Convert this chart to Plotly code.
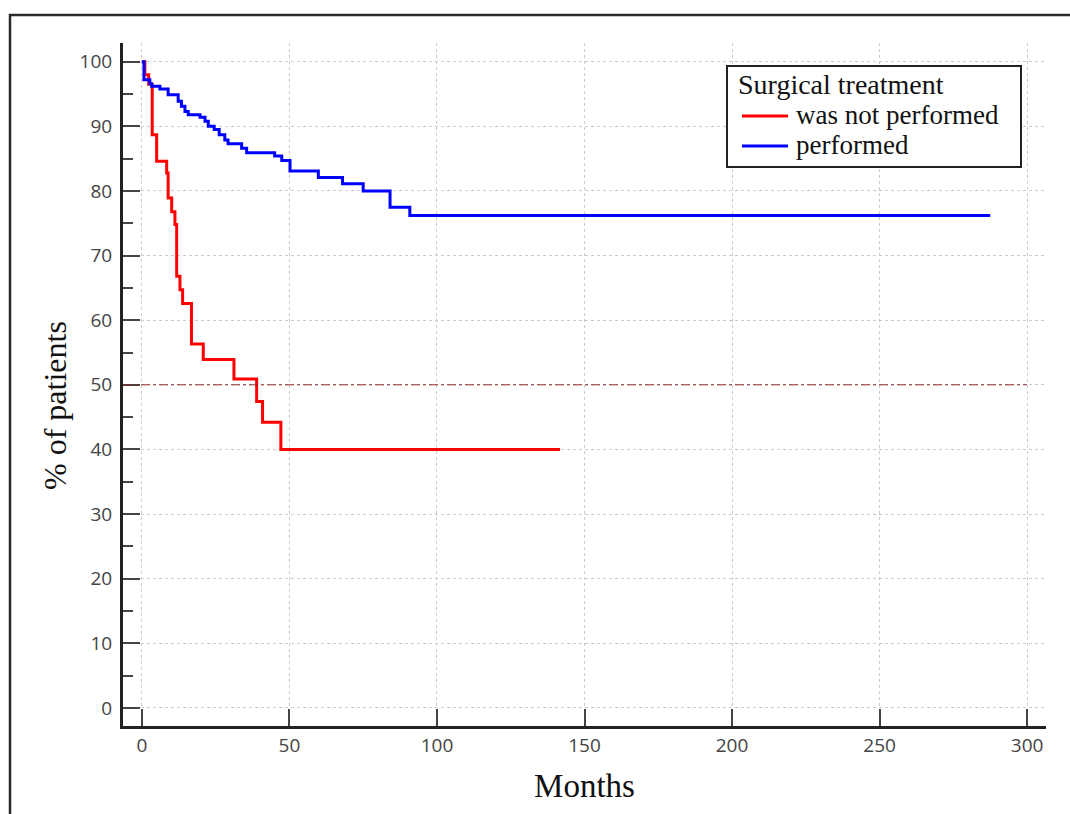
import plotly.graph_objects as go

# Kaplan-Meier style survival steps (months, % of patients)
months_not_performed = [0, 1.0, 2.3, 3.5, 5.0, 8.4, 8.9, 10.1, 11.2, 11.8, 12.9, 13.8,
                        16.8, 20.8, 31.2, 38.9, 40.9, 47.1, 141.7]
pct_not_performed = [100, 98, 96.5, 88.7, 84.6, 82.8, 78.9, 76.8, 74.8, 66.8, 64.7, 62.6,
                     56.3, 53.9, 50.9, 47.4, 44.2, 40.0, 40.0]

months_performed = [0, 0.7, 2.7, 3.3, 6.1, 8.9, 12.3, 13.4, 14.6, 15.7, 19.7, 21.4, 22.5,
                    24.5, 26.2, 28.1, 29.2, 33.8, 35.5, 45.0, 47.4, 50.2, 59.8, 68.0, 75.0,
                    84.1, 90.8, 287.5]
pct_performed = [100, 97.2, 96.6, 96.2, 95.8, 94.9, 93.9, 93.1, 92.3, 91.8, 91.4, 90.8, 90.0,
                 89.5, 88.7, 87.9, 87.3, 86.6, 85.9, 85.4, 84.7, 83.1, 82.1, 81.1, 80.0,
                 77.5, 76.2, 76.2]

series_names = ["was not performed", "performed"]
series_colors = ["#ff0000", "#0000ff"]
legend_title = "Surgical treatment"

x_ticks = [0, 50, 100, 150, 200, 250, 300]
y_ticks = [0, 10, 20, 30, 40, 50, 60, 70, 80, 90, 100]
median_level = 50
median_end = 300

W, H = 1070, 814
ML, MR, MT, MB = 123, 24, 43, 88
PW, PH = W - ML - MR, H - MT - MB
X_RANGE = [-6.4, 306.4]


def px_to_paper_x(px):
    return (px - ML) / PW


def px_to_paper_y(py):
    return (H - MB - py) / PH


serif = "Liberation Serif, Times New Roman, serif"
sans = "Open Sans, DejaVu Sans, sans-serif"

fig = go.Figure()
for xs, ys, name, color in [
    (months_not_performed, pct_not_performed, series_names[0], series_colors[0]),
    (months_performed, pct_performed, series_names[1], series_colors[1]),
]:
    fig.add_trace(go.Scatter(
        x=xs, y=ys, mode="lines", name=name,
        line=dict(shape="hv", color=color, width=3),
        showlegend=False,
    ))

# 50% reference line, from the y axis up to 300 months
fig.add_shape(type="line", xref="x", yref="y",
              x0=X_RANGE[0], x1=median_end,
              y0=median_level, y1=median_level,
              line=dict(color="#8b2a2a", width=1, dash="dashdot"))

# outer frame around the figure
fig.add_shape(type="rect", xref="paper", yref="paper",
              x0=px_to_paper_x(10), x1=px_to_paper_x(W + 20),
              y0=px_to_paper_y(H + 20), y1=px_to_paper_y(15),
              line=dict(color="#2a2a2a", width=2.5), fillcolor="rgba(0,0,0,0)")

# legend box with title and one row per series
fig.add_shape(type="rect", xref="paper", yref="paper",
              x0=px_to_paper_x(727), x1=px_to_paper_x(1021),
              y0=px_to_paper_y(167), y1=px_to_paper_y(66),
              line=dict(color="#222222", width=2), fillcolor="white", layer="above")
fig.add_annotation(xref="paper", yref="paper", x=px_to_paper_x(737), y=px_to_paper_y(85),
                   xanchor="left", yanchor="middle", showarrow=False, text=legend_title,
                   font=dict(family=serif, size=28, color="#111111"), borderpad=0)
for i, (name, color) in enumerate(zip(series_names, series_colors)):
    row_y = 115 + 30 * i
    fig.add_shape(type="line", xref="paper", yref="paper",
                  x0=px_to_paper_x(742), x1=px_to_paper_x(788),
                  y0=px_to_paper_y(row_y + 1), y1=px_to_paper_y(row_y + 1),
                  line=dict(color=color, width=3), layer="above")
    fig.add_annotation(xref="paper", yref="paper", x=px_to_paper_x(795), y=px_to_paper_y(row_y),
                       xanchor="left", yanchor="middle", showarrow=False, text=name,
                       font=dict(family=serif, size=27, color="#111111"), borderpad=0)

# y axis title
fig.add_annotation(xref="paper", yref="paper", x=px_to_paper_x(55), y=px_to_paper_y(406),
                   xanchor="center", yanchor="middle", showarrow=False, textangle=-90,
                   text="% of patients", font=dict(family=serif, size=32, color="#111111"))

fig.update_layout(
    width=W, height=H,
    margin=dict(l=ML, r=MR, t=MT, b=MB, pad=0),
    paper_bgcolor="white", plot_bgcolor="white",
    showlegend=False,
    xaxis=dict(
        range=X_RANGE, tickvals=x_ticks, ticks="inside", ticklen=17,
        tickwidth=1.5, tickcolor="#444444",
        showline=True, linewidth=3, linecolor="#222222",
        showgrid=True, gridcolor="#cccccc", griddash="dot", gridwidth=1,
        zeroline=False,
        tickfont=dict(family=sans, size=19, color="#444444"),
        title=dict(text="Months", font=dict(family=serif, size=33, color="#111111"), standoff=18),
    ),
    yaxis=dict(
        range=[-2.8, 102.9], tickvals=y_ticks, ticks="inside", ticklen=17,
        tickwidth=1.5, tickcolor="#444444",
        showline=True, linewidth=3, linecolor="#222222",
        showgrid=True, gridcolor="#cccccc", griddash="dot", gridwidth=1,
        zeroline=False, ticklabelstandoff=4,
        minor=dict(dtick=5, tick0=0, ticks="inside", ticklen=10, tickwidth=1.5,
                   tickcolor="#444444", showgrid=False),
        tickfont=dict(family=sans, size=19, color="#444444"),
    ),
)

fig.write_html("out.html")
